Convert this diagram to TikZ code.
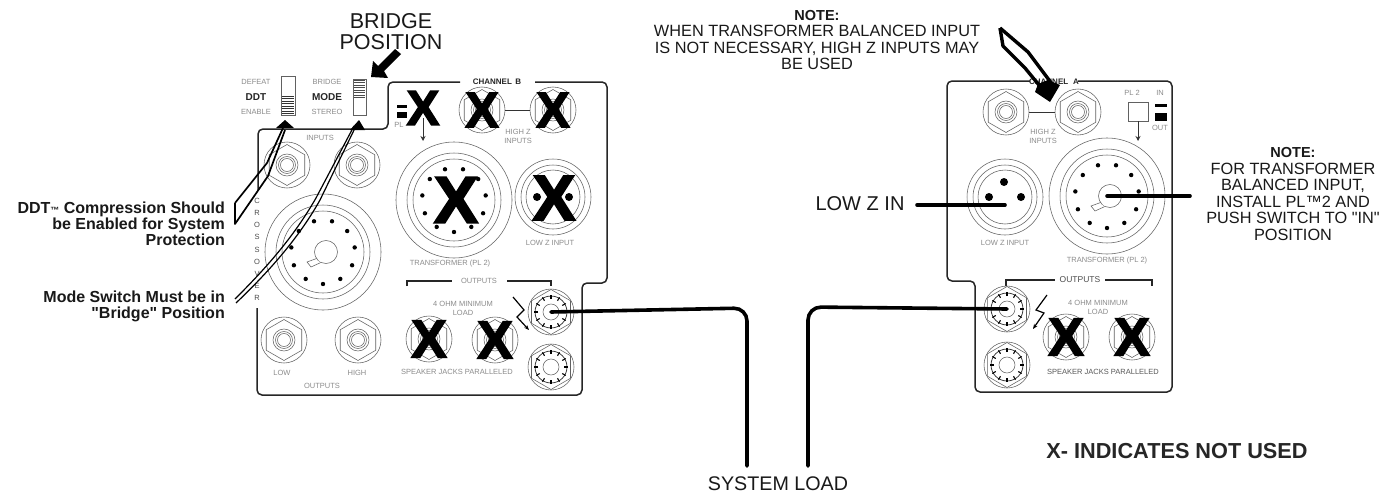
\documentclass[tikz,border=0pt]{standalone}
\usepackage{fontspec}
\setmainfont{Liberation Sans}
\newfontfamily\mf{Liberation Sans}
\newfontfamily\xfont[FakeBold=3]{Liberation Sans Bold}
\usetikzlibrary{shapes.geometric,arrows.meta}
\tikzset{
  thinl/.style={draw=black!62,line width=0.55pt},
  frame/.style={draw=black!85,line width=1.5pt,rounded corners=5pt},
  heavy/.style={draw=black,line width=3.6pt,line cap=round,rounded corners=13pt},
  note/.style={font=\fontsize{16.3}{16.5}\selectfont,align=center,inner sep=0,text=black!90},
  faint/.style={font=\fontsize{7.5}{9}\selectfont,text=black!45,align=center,inner sep=0},
  small/.style={font=\bfseries\fontsize{8}{9}\selectfont,inner sep=0,text=black!85},
  side/.style={font=\bfseries\fontsize{16}{15.8}\selectfont,align=right,anchor=east,inner sep=0,text=black!90},
  hollow/.style={draw=black,line width=1.7pt,line join=round},
  cross/.style={font=\xfont\fontsize{#1}{#1}\selectfont,inner sep=0,text=black},
  hexa/.style={regular polygon,regular polygon sides=6,shape border rotate=30,minimum size=#1,inner sep=0,thinl},
}
\newcommand\plainjack[3]{%
  \coordinate (#1) at (#2,#3);
  \draw[thinl] (#1) circle[radius=23pt];
  \node[hexa=41pt,draw] (#1h) at (#1) {};
  \draw[thinl] (#1) circle[radius=11pt];
  \draw[thinl] (#1) circle[radius=8.5pt];
  \draw[thinl] (#1) circle[radius=6.5pt];
}
\newcommand\speakon[3]{%
  \coordinate (#1) at (#2,#3);
  \draw[thinl] (#1) circle[radius=23pt];
  \node[hexa=45pt,draw] (#1h) at (#1) {};
  \draw[draw=black!85,line width=.7pt] (#1) circle[radius=16pt];
  \draw[thinl] (#1) circle[radius=8pt];
  \foreach \a in {0,30,...,330}{\draw[line width=1.1pt] (#1) ++(\a:13pt) -- ++(\a:4pt);}
}
\newcommand\bigcon[4]{% name x y extra
  \coordinate (#1) at (#2,#3);
  \draw[thinl] (#1) circle[radius=58pt];
  \draw[thinl] (#1) circle[radius=47pt];
  \draw[thinl] (#1) circle[radius=41pt];
  \foreach \k in {0,...,10}{\pgfmathsetmacro\ang{270+32.727*\k}\fill (#1) ++(\ang:32pt) circle[radius=2.2pt];}
  #4
}
\newcommand\keyhole[2]{%
  \draw[thinl] (#1-8,#2+6) -- (#1-19,#2+10) -- (#1-15,#2+15) -- (#1-4,#2+10);
  \draw[thinl,fill=white] (#1,#2) circle[radius=11.5pt];
  \draw[white,line width=1.6pt] (#1-7.5,#2+7) -- (#1-4.5,#2+9.8);
}
\newcommand\xlr[3]{%
  \coordinate (#1) at (#2,#3);
  \draw[thinl] (#1) circle[radius=38pt];
  \draw[thinl] (#1) circle[radius=32pt];
  \draw[thinl] (#1) circle[radius=27pt];
}
\begin{document}
\begin{tikzpicture}[x=1pt,y=-1pt]
\useasboundingbox (0,0) rectangle (1394,495);
\fill[white] (0,0) rectangle (1394,495);
%% LEFT PANEL FRAME
\draw[frame] (258,190) -- (258,129) -- (388,129) -- (388,82) -- (460,82);
\draw[frame] (535,82) -- (607,82) -- (607,283) -- (582,283) -- (582,395) -- (257,395) -- (257,308);
\node[small] (chb) at (497,82) {CHANNEL\, B};
\foreach \c/\y [count=\i] in {C/201,R/213,O/225,S/237,S/250,O/262,V/274,E/286,R/298}{
  \node[font=\fontsize{7.5}{8}\selectfont,text=black!70,inner sep=0] (xo\i) at (257,\y) {\c};}
%% switches
\draw[thinl] (281,76) rectangle (295,115);
\foreach \y in {96,98.5,...,114}{\draw[black!80,line width=.8pt] (282,\y) -- (294,\y);}
\draw[thinl] (353,79) rectangle (366,115);
\foreach \y in {80,82.5,...,99}{\draw[black!70,line width=.7pt] (354,\y) -- (365,\y);}
\node[faint] (ddta) at (256,82) {DEFEAT};
\node[small,font=\bfseries\fontsize{10}{10}\selectfont] (ddtl) at (256,97) {DDT};
\node[faint] (ddtb) at (256,112) {ENABLE};
\node[faint] (moda) at (327,82) {BRIDGE};
\node[small,font=\bfseries\fontsize{10}{10}\selectfont] (modl) at (327,97) {MODE};
\node[faint] (modb) at (327,112) {STEREO};
\node[faint] (inl) at (320,138) {INPUTS};
%% left panel connectors
\plainjack{ia}{287}{165}
\plainjack{ib}{357}{165}
\bigcon{cro}{323}{252}{\keyhole{326}{252}}
\plainjack{oa}{284}{340}
\plainjack{ob}{358}{340}
\node[faint] (oal) at (282,373) {LOW};
\node[faint] (obl) at (357,373) {HIGH};
\node[faint] (oll) at (322,386) {OUTPUTS};
\plainjack{xa}{429}{339}
\plainjack{xb}{495}{340}
\speakon{spa}{551}{312}
\speakon{spb}{551}{367}
\node[cross=53] (xxa) at (429,339) {X};
\node[cross=53] (xxb) at (495,340) {X};
\draw[black!85,line width=1.2pt] (407,286) -- (407,281) -- (452,281);
\draw[black!85,line width=1.2pt] (507,281) -- (551,281) -- (551,286);
\node[faint] (lo) at (479,281) {OUTPUTS};
\node[faint] (lo2) at (463,308) {4 OHM MINIMUM\\LOAD};
\node[faint] (lo3) at (457,372) {SPEAKER JACKS PARALLELED};
\draw[black,line width=1.2pt,-{Stealth[length=5pt,width=4pt]}] (513,297) -- (524,310) -- (517,317) -- (529,330);
%% channel B
\fill[black] (397,105) rectangle (407,108);
\fill[black] (397,112) rectangle (407,118);
\node[faint] (pl) at (399,125) {PL};
\draw[black!80,line width=.9pt,-{Stealth[length=5pt,width=5pt]}] (423,118) -- (423,141);
\node[cross=49] (xpl) at (423,108) {X};
\plainjack{hza}{482}{110}
\plainjack{hzb}{553}{110}
\draw[black!80,line width=.9pt] (505,110) -- (530,110);
\node[cross=50] (xhza) at (482,110) {X};
\node[cross=50] (xhzb) at (553,110) {X};
\node[faint] (hzl) at (518,136) {HIGH Z\\INPUTS};
\bigcon{tb}{454}{200}{}
\node[cross=66] (xtb) at (456,200) {X};
\node[faint] (tbl) at (450,264) {TRANSFORMER (PL 2)};
\xlr{lb}{553}{197}
\fill (537,197) circle[radius=4pt];
\fill (569,197) circle[radius=4pt];
\node[cross=64] (xlb) at (554,198) {X};
\node[faint] (lbl) at (550,243) {LOW Z INPUT};
%% RIGHT PANEL
\draw[frame] (1030,81) -- (947,81) -- (947,281) -- (975,281) -- (975,392) -- (1172,392) -- (1172,81) -- (1078,81);
\node[small] (cha) at (1054,82) {CHANNEL\,\, A};
\plainjack{ra}{1006}{112}
\plainjack{rb}{1078}{112}
\draw[black!80,line width=.9pt] (1029,112) -- (1055,112);
\node[faint] (rhz) at (1043,136) {HIGH Z\\INPUTS};
\draw[thinl,line width=.8pt] (1128,102) rectangle (1148,121);
\draw[black!80,line width=.9pt,-{Stealth[length=5pt,width=5pt]}] (1138,121) -- (1138,141);
\node[faint] (pl2) at (1132,93) {PL 2};
\node[faint] (rin) at (1160,93) {IN};
\fill (1155,104) rectangle (1167,107);
\fill (1155,113) rectangle (1167,121);
\node[faint] (rout) at (1160,128) {OUT};
\xlr{rl}{1005}{197}
\fill (1004,182) circle[radius=4pt];
\fill (989,197) circle[radius=4pt];
\fill (1021,197) circle[radius=4pt];
\node[faint] (rll) at (1005,243) {LOW Z INPUT};
\bigcon{rt}{1107}{196}{\keyhole{1110}{196}}
\node[faint] (rtl) at (1107,261) {TRANSFORMER (PL 2)};
\draw[black!85,line width=1.2pt] (1006,286) -- (1006,280) -- (1055,280);
\draw[black!85,line width=1.2pt] (1105,280) -- (1152,280) -- (1152,286);
\node[faint,text=black!70,font=\fontsize{8.5}{9}\selectfont] (rol) at (1080,280) {OUTPUTS};
\speakon{rsa}{1007}{309}
\speakon{rsb}{1007}{365}
\draw[black,line width=1.2pt,-{Stealth[length=5pt,width=4pt]}] (1047,295) -- (1036,310) -- (1044,313) -- (1033,329);
\node[faint] (r4) at (1098,307) {4 OHM MINIMUM\\LOAD};
\plainjack{rxa}{1066}{337}
\plainjack{rxb}{1132}{337}
\node[cross=53] (rxxa) at (1066,337) {X};
\node[cross=53] (rxxb) at (1132,337) {X};
\node[faint,text=black!65] (rsp) at (1103,372) {SPEAKER JACKS PARALLELED};
%% TEXTS
\node[font=\fontsize{21.5}{21}\selectfont,align=center,inner sep=0,text=black!90] (bp) at (391,32) {BRIDGE\\POSITION};
\node[note] (n1) at (817,40) {{\bfseries\fontsize{14.5}{16.5}\selectfont NOTE:}\\WHEN TRANSFORMER BALANCED INPUT\\IS NOT NECESSARY, HIGH Z INPUTS MAY\\BE USED};
\node[note] (n2) at (1293,194) {{\bfseries\fontsize{14.5}{16.5}\selectfont NOTE:}\\FOR TRANSFORMER\\BALANCED INPUT,\\INSTALL PL™2 AND\\{\mf PUSH SWITCH TO "IN"}\\POSITION};
\node[side] (n3) at (225,224) {DDT{\fontsize{9}{9}\selectfont™} Compression Should\\be Enabled for  System\\Protection};
\node[side] (n4) at (225,306) {Mode Switch Must be in\\{\mf"Bridge"}  Position};
\node[font=\fontsize{20}{20}\selectfont,inner sep=0,text=black!90] (lzi) at (860,204) {LOW Z IN};
\node[font=\fontsize{19.7}{20}\selectfont,inner sep=0,text=black!90] (sl) at (778,484) {SYSTEM LOAD};
\node[font=\bfseries\fontsize{21.7}{22}\selectfont,inner sep=0,text=black!85] (xi) at (1177,451) {X- INDICATES NOT USED};
%% HEAVY LINES
\coordinate (lza) at (917,205);
\coordinate (lzb) at (1005,205);
\draw[heavy] (lza) -- (lzb);
\coordinate (tra) at (1190,196);
\draw[heavy] (rt) -- (tra);
\coordinate (sla) at (747,466);
\coordinate (slb) at (808,466);
\draw[heavy] (spa) -- (747,308) -- (sla);
\draw[heavy] (rsa) -- (808,307) -- (slb);
%% ARROWS
\fill (373,61) -- (371,77) -- (388,78) -- (384,71) -- (401,54) -- (395,49) -- (378,66) -- cycle;
\draw[hollow] (235,203) -- (235,224) -- (268,176) -- (285,130);
\draw[hollow] (235,203) -- (267,163) -- (283,128);
\fill (285,120) -- (276,128) -- (294,128) -- cycle;
\draw[hollow,line width=1.2pt] (236,303) .. controls (262,278) and (296,243) .. (320,200) -- (356,126);
\draw[hollow,line width=1.2pt] (235,299) .. controls (262,272) and (292,240) .. (316,198) -- (354,126);
\fill (359,120) -- (350,130) -- (365,130) -- cycle;
\draw[hollow,line width=3.4pt] (1000,28) -- (1003,46) -- (1025,68) -- (1043,90);
\draw[hollow,line width=3.4pt] (1000,28) -- (1028,52) -- (1052,84);
\fill (1035,92) -- (1050,102) -- (1060,85) -- (1048,80) -- (1038,84) -- cycle;
\end{tikzpicture}
\end{document}
